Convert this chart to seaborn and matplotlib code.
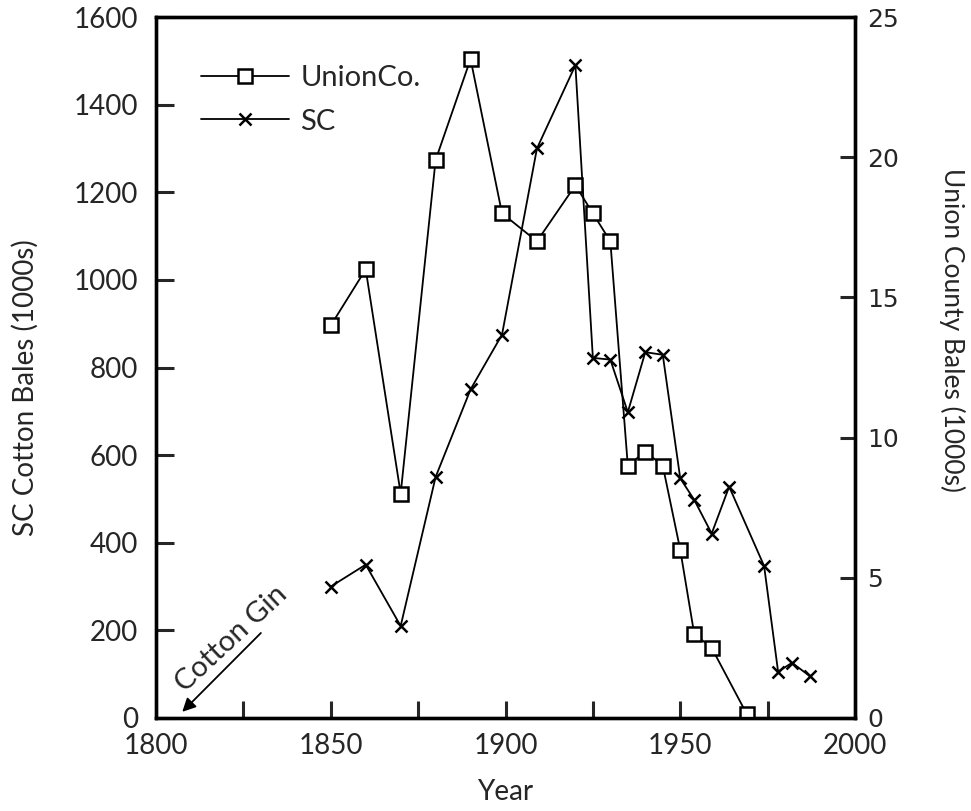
import numpy as np
import pandas as pd
import seaborn as sns
import matplotlib.pyplot as plt
from matplotlib.lines import Line2D

# Union County bales (1000s), right axis
union_years = [1850, 1860, 1870, 1880, 1890, 1899, 1909, 1920, 1925, 1930,
               1935, 1940, 1945, 1950, 1954, 1959, 1969]
union_bales = [14.0, 16.0, 8.0, 19.9, 23.5, 18.0, 17.0, 19.0, 18.0, 17.0,
               9.0, 9.5, 9.0, 6.0, 3.0, 2.5, 0.15]

# SC cotton bales (1000s), left axis
sc_years = [1850, 1860, 1870, 1880, 1890, 1899, 1909, 1920, 1925, 1930,
            1935, 1940, 1945, 1950, 1954, 1959, 1964, 1974, 1978, 1982, 1987]
sc_bales = [300, 350, 210, 550, 750, 875, 1300, 1490, 822, 818,
            698, 835, 829, 547, 498, 421, 528, 347, 106, 126, 96]

left_ticks = [0, 200, 400, 600, 800, 1000, 1200, 1400, 1600]
right_ticks = [0, 5, 10, 15, 20, 25]
year_ticks = list(range(1800, 2001, 25))

sns.set_style("white")
plt.rcParams['font.family'] = ['Lato', 'DejaVu Sans']

fig = plt.figure(figsize=(9.71, 8.11), dpi=100)
ax = fig.add_axes([0.1607, 0.1147, 0.7198, 0.8643])
ax2 = ax.twinx()

sns.lineplot(x=sc_years, y=sc_bales, ax=ax, color="black", lw=1.3,
             marker="x", markersize=8, markeredgewidth=1.8, markeredgecolor="black")
sns.lineplot(x=union_years, y=union_bales, ax=ax2, color="black", lw=1.3,
             marker="s", markersize=9.5, markerfacecolor="white",
             markeredgewidth=1.8, markeredgecolor="black")

ax.set_xlim(1800, 2000)
ax.set_ylim(0, 1600)
ax2.set_ylim(0, 25)
ax.set_xticks(year_ticks)
ax.set_xticklabels([str(y) if y % 50 == 0 else "" for y in year_ticks])
ax.set_yticks(left_ticks)
ax2.set_yticks(right_ticks)

for a in (ax, ax2):
    for s in a.spines.values():
        s.set_linewidth(2.4)
        s.set_color("black")

ax.tick_params(axis="y", direction="in", length=13, width=2.2, pad=13,
               labelsize=20, left=True, right=False)
ax.tick_params(axis="x", direction="in", length=12, width=2.2, pad=11,
               labelsize=20, bottom=True, top=False)
ax2.tick_params(axis="y", direction="in", length=11, width=2.2, pad=9,
                labelsize=18, right=True, left=False)
for lab in ax2.get_yticklabels():
    lab.set_family("DejaVu Sans")

ax.set_xlabel("Year", fontsize=20, labelpad=14)
ax.set_ylabel("SC Cotton Bales (1000s)", fontsize=20)
ax2.set_ylabel("Union County Bales (1000s)", fontsize=19, rotation=270)
ax.yaxis.set_label_coords(-0.187, 0.471)
ax2.yaxis.set_label_coords(1.139, 0.553)
ax.yaxis.label.set_va("center")
ax2.yaxis.label.set_va("center")

handles = [
    Line2D([], [], color="black", lw=1.3, marker="s", markersize=9.5,
           markerfacecolor="white", markeredgewidth=1.8),
    Line2D([], [], color="black", lw=1.3, marker="x", markersize=8,
           markeredgewidth=1.8),
]
ax.legend(handles, ["UnionCo.", "SC"], loc="upper left", bbox_to_anchor=(0.048, 0.948),
          frameon=False, fontsize=21, handlelength=3.0, handletextpad=0.4,
          labelspacing=0.6, borderaxespad=0)

ax.annotate("", xy=(1807.5, 14), xytext=(1830, 194),
            arrowprops=dict(arrowstyle="-|>", color="black", lw=1.3,
                            mutation_scale=20, shrinkA=0, shrinkB=0))
ax.text(1821.5, 180, "Cotton Gin", rotation=43, fontsize=21,
        ha="center", va="center", rotation_mode="anchor")

fig.savefig("out.png", dpi=100)
